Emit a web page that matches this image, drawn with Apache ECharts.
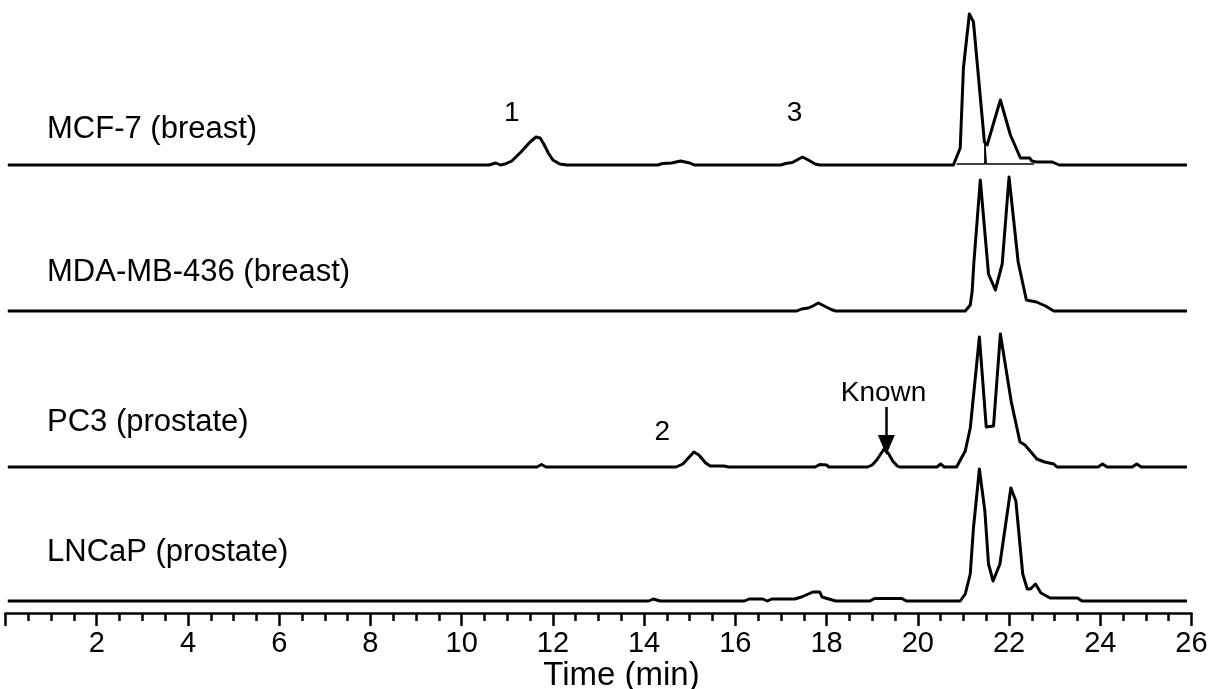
<!DOCTYPE html>
<html><head><meta charset="utf-8">
<script src="https://cdn.jsdelivr.net/npm/echarts@6/dist/echarts.min.js"></script>
<style>html,body{margin:0;padding:0;background:#fff}#c{width:1211px;height:689px}</style>
</head><body><div id="c"></div>
<script>
// ---- data (time in min, signal in arbitrary units above each trace's baseline) ----
const sampleNames = ['MCF-7 (breast)', 'MDA-MB-436 (breast)', 'PC3 (prostate)', 'LNCaP (prostate)'];
const xTickLabels = [2, 4, 6, 8, 10, 12, 14, 16, 18, 20, 22, 24, 26];
const axisTitle = 'Time (min)';

const mcf7Time   = [0.05, 10.6, 10.75, 10.85, 10.95, 11.1, 11.3, 11.5, 11.63, 11.72, 11.8, 11.9, 12.0, 12.15, 12.3, 14.3, 14.4, 14.6, 14.8, 15.0, 15.1, 17.0, 17.1, 17.25, 17.35, 17.47, 17.6, 17.75, 17.85, 20.78, 20.93, 21.0, 21.13, 21.22, 21.46, 21.52, 21.81, 22.03, 22.25, 22.45, 22.5, 22.6, 22.95, 23.1, 25.9];
const mcf7Signal = [0, 0, 2, 0, 1, 4, 13, 23, 28, 27, 21, 12, 5, 1, 0, 0, 1.5, 2, 4, 2, 0, 0, 1.5, 2.5, 5, 8, 5, 1, 0, 0, 17, 97, 151, 143, 23, 20, 65, 30, 7, 7, 4, 3, 3, 0, 0];
const mcf7Split  = [[20.85, 1], [21.47, 1], [21.47, 22], [21.5, 22], [21.5, 1], [22.55, 1]];

const mdaTime   = [0.05, 17.35, 17.45, 17.6, 17.7, 17.82, 17.95, 18.1, 18.2, 21.04, 21.15, 21.19, 21.23, 21.37, 21.55, 21.7, 21.85, 22.0, 22.2, 22.38, 22.6, 22.8, 22.98, 25.9];
const mdaSignal = [0, 0, 2, 3, 5, 8, 5, 1.5, 0, 0, 6, 19, 49, 131, 37, 21, 47, 134, 49, 11, 9, 5, 0, 0];

const pc3Time   = [0.05, 11.65, 11.75, 11.85, 14.7, 14.85, 14.95, 15.09, 15.2, 15.35, 15.45, 15.75, 15.85, 17.75, 17.85, 18.0, 18.05, 18.9, 19.0, 19.1, 19.26, 19.35, 19.45, 19.55, 19.6, 20.42, 20.5, 20.58, 20.85, 21.04, 21.15, 21.35, 21.5, 21.66, 21.81, 22.05, 22.24, 22.35, 22.61, 22.78, 22.98, 23.05, 23.95, 24.05, 24.15, 24.7, 24.8, 24.9, 25.9];
const pc3Signal = [0, 0, 2.5, 0, 0, 3, 8, 15, 12, 4, 1, 1, 0, 0, 2.5, 2, 0, 0, 2, 7, 18, 14, 6, 1, 0, 0, 3, 0, 0, 16, 39, 130, 40, 41, 133, 65, 25, 22, 8, 5, 3, 0, 0, 3, 0, 0, 3, 0, 0];

const lncapTime   = [0.05, 14.1, 14.2, 14.35, 16.2, 16.3, 16.6, 16.7, 16.8, 17.3, 17.45, 17.6, 17.7, 17.85, 17.9, 18.05, 18.2, 18.95, 19.05, 19.65, 19.75, 20.93, 21.04, 21.15, 21.22, 21.35, 21.47, 21.55, 21.65, 21.8, 22.04, 22.15, 22.3, 22.4, 22.47, 22.58, 22.7, 22.9, 23.5, 23.6, 25.9];
const lncapSignal = [0, 0, 2, 0, 0, 2, 2, 0, 2, 2, 4, 7, 9, 9, 4, 2, 0, 0, 2.5, 2.5, 0, 0, 7, 27, 73, 132, 90, 37, 20, 37, 113, 100, 27, 12, 12, 17, 8, 3, 3, 0, 0];

// ---- layout ----
const baselines = [165, 311, 467, 601];
const H = 160;
const L = 5.5, R = 19.5;

function zip(t, s) { return t.map((v, i) => [v, s[i]]); }
const traces = [zip(mcf7Time, mcf7Signal), zip(mdaTime, mdaSignal), zip(pc3Time, pc3Signal), zip(lncapTime, lncapSignal)];

const FONT = 'Liberation Sans, Arial, Helvetica, sans-serif';
const grids = [], xAxes = [], yAxes = [], series = [];
baselines.forEach((b, i) => {
  grids.push({ left: L, right: R, top: b - H, height: H, containLabel: false, outerBoundsMode: 'none' });
  const last = i === 3;
  xAxes.push({
    type: 'value', gridIndex: i, min: 0, max: 26, interval: 2, show: last,
    offset: 12,
    name: last ? axisTitle : '', nameLocation: 'middle', nameGap: 46,
    nameTextStyle: { fontFamily: FONT, fontSize: 33, color: '#000', padding: [0, 0, 0, 46] },
    axisLine: { show: true, onZero: false, lineStyle: { color: '#000', width: 2.5 } },
    axisTick: { show: true, length: 13, lineStyle: { color: '#000', width: 2.5 } },
    minorTick: { show: true, splitNumber: 4, length: 8, lineStyle: { color: '#000', width: 2.5 } },
    splitLine: { show: false },
    axisLabel: { show: true, margin: 16, fontFamily: FONT, fontSize: 29, color: '#000',
      formatter: v => (xTickLabels.indexOf(v) >= 0 ? String(v) : '') }
  });
  yAxes.push({ type: 'value', gridIndex: i, min: 0, max: H, show: false });
  series.push({
    type: 'line', name: sampleNames[i], xAxisIndex: i, yAxisIndex: i, data: traces[i],
    symbol: 'none', smooth: false, clip: false,
    lineStyle: { color: '#000', width: 3, join: 'round' }, silent: true, animation: false
  });
});

// split / drop line under MCF-7 main peaks
series.push({ type: 'line', xAxisIndex: 0, yAxisIndex: 0, data: mcf7Split, symbol: 'none',
  lineStyle: { color: '#000', width: 1.5 }, silent: true, animation: false });

// peak annotations
const annoStyle = { fontFamily: FONT, fontSize: 28, color: '#000' };
function labelPoint(coord, text) {
  return { coord, symbol: 'circle', symbolSize: 1, itemStyle: { color: 'rgba(0,0,0,0)' },
    label: { show: true, position: 'inside', formatter: text, ...annoStyle } };
}
series[0].markPoint = { animation: false, silent: true, data: [labelPoint([11.1, 52], '1'), labelPoint([17.3, 52], '3')] };
series[2].markPoint = { animation: false, silent: true, data: [labelPoint([14.4, 35], '2'), labelPoint([19.25, 74], 'Known')] };
series[2].markLine = { animation: false, silent: true, symbol: ['none', 'triangle'], symbolSize: [17, 20],
  lineStyle: { color: '#000', width: 2.5, type: 'solid' }, itemStyle: { color: '#000' }, label: { show: false },
  data: [[{ coord: [19.31, 60] }, { coord: [19.31, 22] }]] };

const graphics = sampleNames.map((n, i) => ({
  type: 'text', left: 47, top: [131, 274, 424, 554][i] - 17,
  style: { text: n, font: '31px ' + FONT, fill: '#000' }
}));

const chart = echarts.init(document.getElementById('c'), null, { renderer: 'canvas' });
chart.setOption({ animation: false, backgroundColor: '#fff', grid: grids, xAxis: xAxes, yAxis: yAxes, series, graphic: graphics });
</script></body></html>
